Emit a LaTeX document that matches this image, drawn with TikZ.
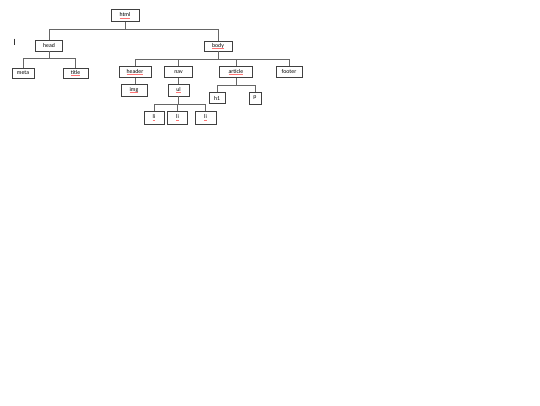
\documentclass[tikz,border=0pt]{standalone}
\usepackage{fontspec}
\setmainfont{Carlito}
\newcommand\spl[1]{\setbox0\hbox{#1}\rlap{\raisebox{-1.1pt}{\color{red!55}\rule{\wd0}{0.3pt}}}\box0}
\begin{document}
\begin{tikzpicture}[x=1pt,y=-1pt,
  tag/.style={draw=black!75,fill=white,line width=0.6pt,inner sep=0pt,anchor=center,font=\fontsize{5.8}{6.5}\selectfont},
  link/.style={draw=black!60,line width=0.5pt}]
\useasboundingbox[fill=white] (0,0) rectangle (540,405);
% nodes
\node[tag,minimum width=28pt,minimum height=12pt] (html) at (125,15.5) {\spl{html}};
\node[tag,minimum width=27pt,minimum height=11pt] (head) at (49,45.5) {head};
\node[tag,minimum width=28pt,minimum height=10pt] (body) at (218,46) {\spl{body}};
\node[tag,minimum width=22pt,minimum height=10pt] (meta) at (23,73) {meta};
\node[tag,minimum width=25pt,minimum height=10pt] (title) at (75.5,73) {\spl{title}};
\node[tag,minimum width=32pt,minimum height=11pt] (header) at (135,72) {\spl{header}};
\node[tag,minimum width=28pt,minimum height=11pt] (nav) at (178.5,72) {nav};
\node[tag,minimum width=33pt,minimum height=11pt] (article) at (236,72) {\spl{article}};
\node[tag,minimum width=26pt,minimum height=11pt] (footer) at (289,71.5) {footer};
\node[tag,minimum width=26pt,minimum height=12pt] (img) at (134,90) {\spl{img}};
\node[tag,minimum width=21pt,minimum height=12pt] (ul) at (178.5,90) {\spl{ul}};
\node[tag,minimum width=16pt,minimum height=11pt] (h1) at (217,98) {h1};
\node[tag,minimum width=12pt,minimum height=12pt] (p) at (255,98) {p};
\node[tag,minimum width=20pt,minimum height=13pt] (li1) at (154,117.5) {\spl{li}};
\node[tag,minimum width=20pt,minimum height=13pt] (li2) at (177.5,117.5) {\spl{li}};
\node[tag,minimum width=21pt,minimum height=13pt] (li3) at (205.5,117.5) {\spl{li}};
% bar levels
\coordinate (bhtml) at (0,29);
\coordinate (bhead) at (0,58);
\coordinate (bbody) at (0,59);
\coordinate (bul) at (0,104);
\coordinate (bart) at (0,85);
% connectors
\draw[link] (html.south) -- (html.south |- bhtml) -| (head.north);
\draw[link] (html.south |- bhtml) -| (body.north);
\draw[link] (head.south) -- (head.south |- bhead) -| (meta.north);
\draw[link] (head.south |- bhead) -| (title.north);
\draw[link] (body.south) -- (body.south |- bbody) -| (header.north);
\draw[link] (body.south |- bbody) -| (nav.north);
\draw[link] (body.south |- bbody) -| (article.north);
\draw[link] (body.south |- bbody) -| (footer.north);
\draw[link] (header.south) -- (img.north -| header.south);
\draw[link] (nav.south) -- (ul.north);
\draw[link] (ul.south) -- (ul.south |- bul) -| (li1.north);
\draw[link] (ul.south |- bul) -| (li2.north);
\draw[link] (ul.south |- bul) -| (li3.north);
\draw[link] (article.south) -- (article.south |- bart) -| (h1.north);
\draw[link] (article.south |- bart) -| (p.north);
% text cursor mark
\coordinate (cur1) at (14,38.5);
\coordinate (cur2) at (14,44.5);
\draw[black!80,line width=0.7pt] (cur1) -- (cur2);
\end{tikzpicture}
\end{document}
